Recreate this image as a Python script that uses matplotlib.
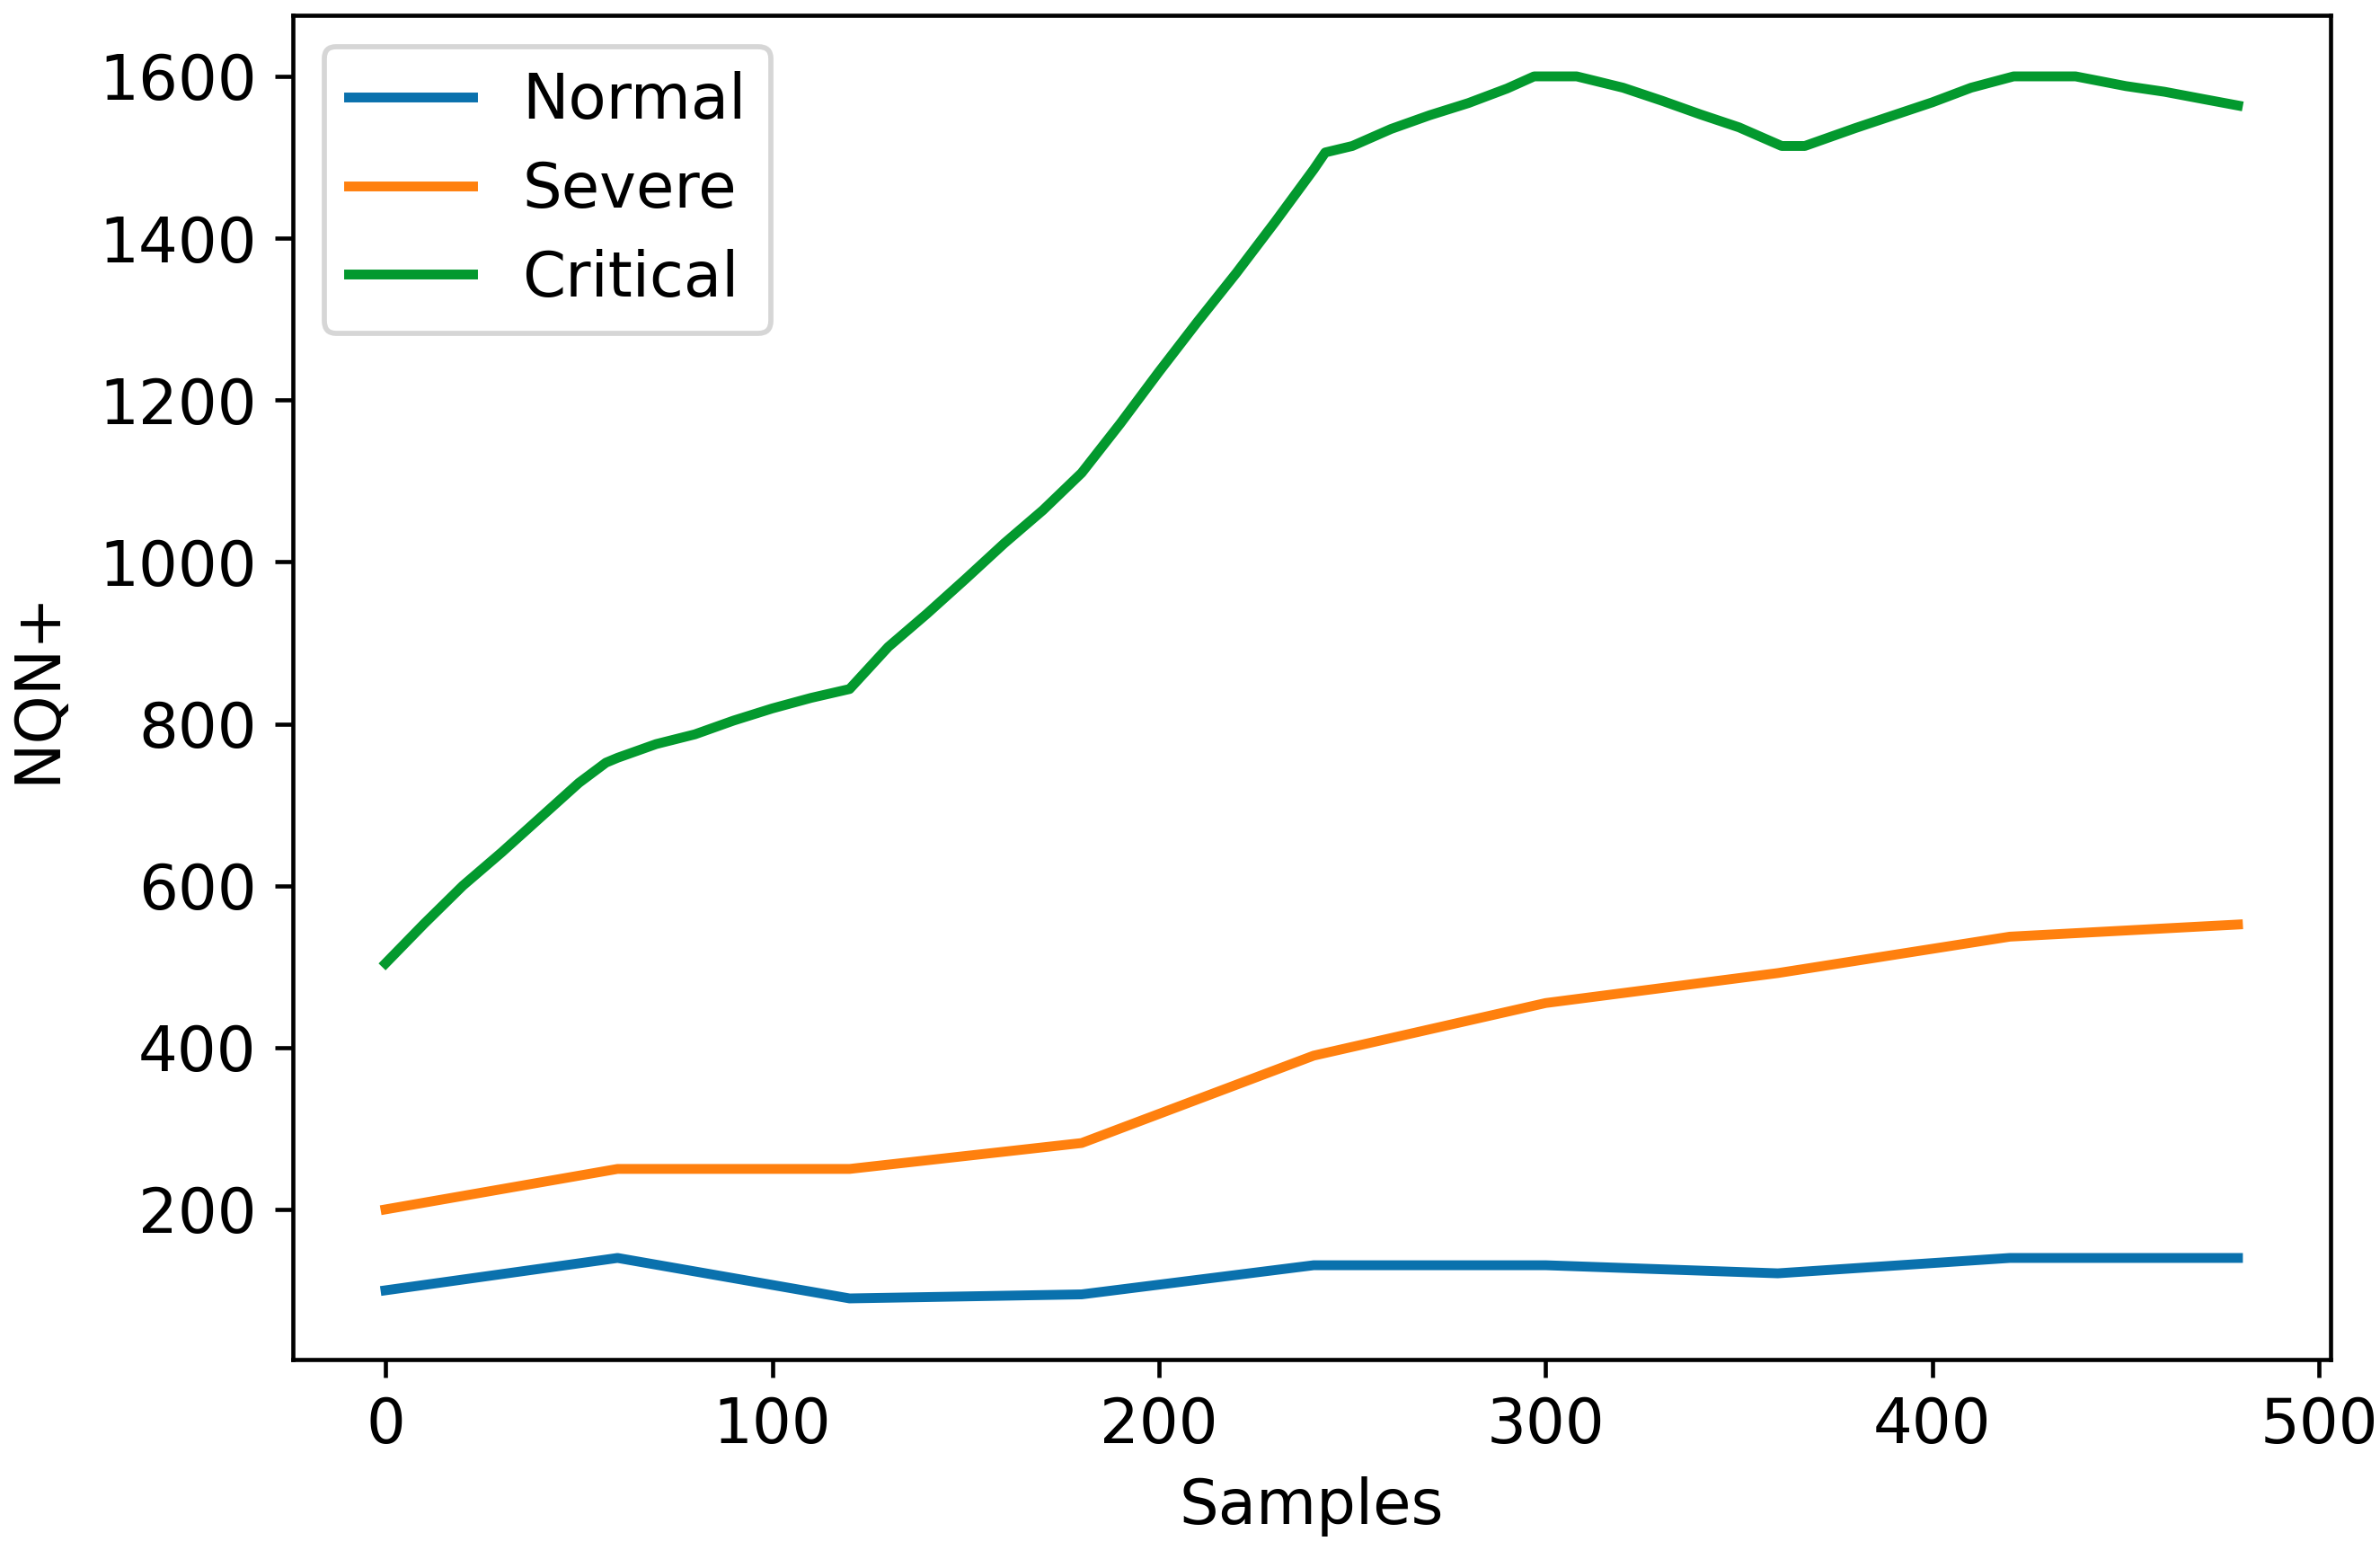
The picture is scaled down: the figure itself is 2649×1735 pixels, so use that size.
import matplotlib
matplotlib.use("Agg")
import matplotlib.pyplot as plt

# ---- data ----
knot_x = [0, 60, 120, 180, 240, 300, 360, 420, 479]
normal = [100, 140, 90, 95, 131, 131, 121, 140, 140]
severe = [200, 250, 250, 282, 390, 455, 492, 537, 552]

crit_x = [0, 10, 20, 30, 40, 50, 57, 60, 70, 80, 90, 100, 110, 120,
          130, 140, 150, 160, 170, 180, 190, 200, 210, 220, 230, 240, 243,
          250, 260, 270, 280, 290, 297, 308, 320, 330, 340, 350, 361, 367,
          380, 390, 400, 410, 421, 437, 450, 460, 470, 479]
critical = [504, 553, 600, 641, 684, 727, 752, 758, 775, 787, 804, 819, 832, 843,
            895, 936, 979, 1023, 1064, 1110, 1171, 1235, 1297, 1357, 1420, 1485, 1506,
            1514, 1535, 1552, 1567, 1585, 1600, 1600, 1586, 1570, 1553, 1537, 1514, 1514,
            1536, 1552, 1568, 1586, 1600, 1600, 1588, 1581, 1572, 1564]

labels = ["Normal", "Severe", "Critical"]
colors = ["#0a71ad", "#ff800e", "#03992e"]

plt.rcParams["font.family"] = ["DejaVu Sans"]
plt.rcParams["font.size"] = 12

fig = plt.figure(figsize=(2649 / 414, 1735 / 414), dpi=414)
ax = fig.add_axes([326 / 2649, 1 - 1513 / 1735, (2594 - 326) / 2649, (1513 - 17) / 1735])

lw = 1.9
ax.plot(knot_x, normal, color=colors[0], lw=lw, label=labels[0])
ax.plot(knot_x, severe, color=colors[1], lw=lw, label=labels[1])
ax.plot(crit_x, critical, color=colors[2], lw=lw, label=labels[2])

ax.set_xticks([0, 100, 200, 300, 400, 500])
ax.set_yticks([200, 400, 600, 800, 1000, 1200, 1400, 1600])
ax.set_xlabel("Samples")
ax.set_ylabel("NQN+", labelpad=6)
ax.legend(loc="upper left", labelspacing=0.46)

fig.savefig("out.png", dpi=414)
